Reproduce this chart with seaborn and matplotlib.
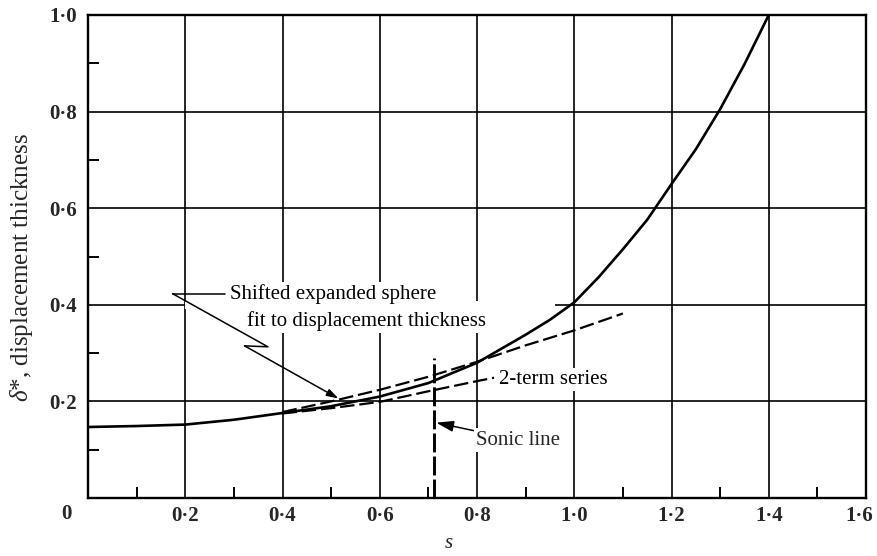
import numpy as np
import pandas as pd
import matplotlib
matplotlib.use("Agg")
import matplotlib.pyplot as plt
from matplotlib.patches import Rectangle
from matplotlib.transforms import ScaledTranslation
import seaborn as sns

# Displacement thickness along the surface coordinate s
s_exact = [0.0, 0.1, 0.2, 0.3, 0.4, 0.5, 0.6, 0.7, 0.8, 0.9, 0.95, 1.0, 1.05, 1.1, 1.15,
           1.2, 1.25, 1.3, 1.35, 1.4]
delta_exact = [0.147, 0.149, 0.152, 0.162, 0.176, 0.19, 0.21, 0.238, 0.28, 0.338, 0.369,
               0.405, 0.457, 0.515, 0.576, 0.65, 0.722, 0.805, 0.898, 1.0]

# Shifted expanded sphere fit
s_sphere = [0.4, 0.5, 0.6, 0.7, 0.8, 0.9, 1.0, 1.1]
delta_sphere = [0.178, 0.2, 0.224, 0.251, 0.282, 0.316, 0.347, 0.382]

# 2-term series
s_series = [0.4, 0.5, 0.6, 0.7, 0.8, 0.835]
delta_series = [0.175, 0.186, 0.199, 0.221, 0.242, 0.249]

# Sonic line position
sonic_s = 0.712
sonic_top = 0.29

x_ticks = [0.2, 0.4, 0.6, 0.8, 1.0, 1.2, 1.4, 1.6]
x_labels = ["0·2", "0·4", "0·6", "0·8", "1·0", "1·2", "1·4", "1·6"]
y_ticks = [0.2, 0.4, 0.6, 0.8, 1.0]
y_labels = ["0·2", "0·4", "0·6", "0·8", "1·0"]
x_minor = [0.1, 0.3, 0.5, 0.7, 0.9, 1.1, 1.3, 1.5]
y_minor = [0.1, 0.3, 0.5, 0.7, 0.9]

sns.set_style("white")
plt.rcParams["font.family"] = ["Liberation Serif", "DejaVu Serif"]
plt.rcParams["mathtext.fontset"] = "custom"
plt.rcParams["mathtext.rm"] = "Liberation Serif"
plt.rcParams["mathtext.it"] = "Liberation Serif:italic"

fig = plt.figure(figsize=(8.77, 5.56), dpi=100)
ax = fig.add_axes([88 / 877, 58 / 556, 778 / 877, 483 / 556])

df_exact = pd.DataFrame({"s": s_exact, "delta": delta_exact})
df_sphere = pd.DataFrame({"s": s_sphere, "delta": delta_sphere})
df_series = pd.DataFrame({"s": s_series, "delta": delta_series})

dash = (0, (6.5, 2.2))
sns.lineplot(data=df_exact, x="s", y="delta", ax=ax, color="black", lw=1.9, zorder=3)
sns.lineplot(data=df_sphere, x="s", y="delta", ax=ax, color="black", lw=1.6,
             linestyle=dash, zorder=3)
sns.lineplot(data=df_series, x="s", y="delta", ax=ax, color="black", lw=1.6,
             linestyle=dash, zorder=3)
ax.plot([sonic_s, sonic_s], [0, sonic_top], color="black", lw=2.1,
        linestyle=(0, (6.5, 1.4)), zorder=3)

ax.set_xlim(0, 1.6)
ax.set_ylim(0, 1.0)
ax.set_xlabel("")
ax.set_ylabel("")

ax.set_xticks(x_ticks)
ax.set_xticklabels(x_labels)
ax.set_yticks(y_ticks)
ax.set_yticklabels(y_labels)
ax.set_xticks(x_minor, minor=True)
ax.set_yticks(y_minor, minor=True)
ax.tick_params(which="major", length=0, labelsize=15, pad=6)
ax.tick_params(axis="y", which="major", pad=8)
ax.tick_params(which="minor", direction="in", length=8, width=1.4, color="black",
               bottom=True, left=True)
for lab in ax.get_xticklabels() + ax.get_yticklabels():
    lab.set_fontweight("bold")
# keep the last x label inside the figure edge
last = ax.get_xticklabels()[-1]
last.set_transform(last.get_transform() + ScaledTranslation(-7 / 100, 0, fig.dpi_scale_trans))

ax.grid(True, which="major", color="black", lw=1.2)
ax.set_axisbelow(True)
for sp in ax.spines.values():
    sp.set_color("black")
    sp.set_linewidth(1.7)

# mask the 0.4 grid line behind the long label
ax.add_patch(Rectangle((0.2, 0.392), 0.76, 0.016, facecolor="white",
                       edgecolor="none", zorder=1))

txt_kw = dict(fontsize=15, color="black", zorder=1.5,
              bbox=dict(facecolor="white", edgecolor="none", pad=1.5))

# Shifted sphere label with broken leader
ax.text(0.292, 0.423, "Shifted expanded sphere", ha="left", va="center", **txt_kw)
ax.text(0.326, 0.367, "fit to displacement thickness", ha="left", va="center", **txt_kw)
ax.plot([0.174, 0.282], [0.423, 0.423], color="black", lw=1.1, zorder=2)
ax.plot([0.174, 0.370, 0.322], [0.423, 0.313, 0.315], color="black", lw=1.1, zorder=2)
ax.annotate("", xy=(0.515, 0.206), xytext=(0.322, 0.315),
            arrowprops=dict(arrowstyle="-|>,head_length=0.7,head_width=0.22",
                            color="black", lw=1.1, shrinkA=0, shrinkB=0), zorder=2)

ax.text(0.845, 0.245, "2-term series", ha="left", va="center", **txt_kw)

ax.annotate("Sonic line", xy=(0.716, 0.156), xytext=(0.798, 0.12),
            ha="left", va="center", fontsize=15, zorder=1.5,
            bbox=dict(facecolor="white", edgecolor="none", pad=1.5),
            arrowprops=dict(arrowstyle="-|>,head_length=0.7,head_width=0.22",
                            color="black", lw=1.1, shrinkA=0, shrinkB=0))

ax.text(-0.086, 0.478, r"$\delta$*, displacement thickness", rotation=90,
        transform=ax.transAxes, ha="center", va="center", fontsize=18)
fig.text(66 / 877, 1 - 514 / 556, "0", ha="center", va="center",
         fontsize=15, fontweight="bold")
fig.text(449 / 877, 1 - 543 / 556, "s", ha="center", va="center",
         fontsize=15, style="italic")

fig.savefig("out.png", dpi=100)
